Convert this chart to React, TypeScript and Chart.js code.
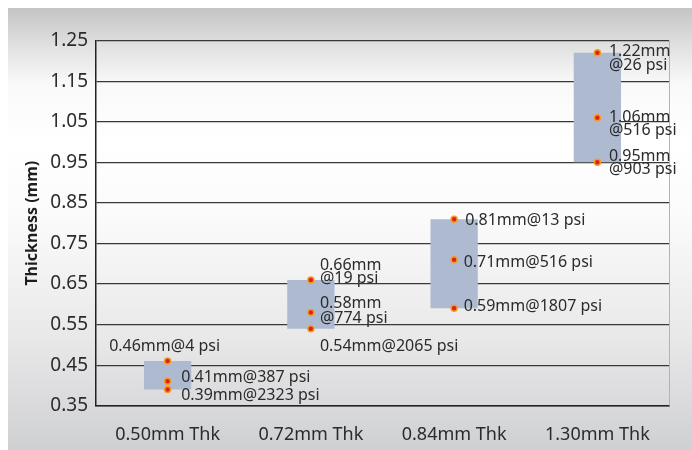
import { useEffect, useRef } from 'react';
import { Chart, registerables } from 'chart.js';

Chart.register(...registerables);

const categories = ['0.50mm Thk', '0.72mm Thk', '0.84mm Thk', '1.30mm Thk'];
const rangeLow = [0.39, 0.54, 0.59, 0.95];
const rangeHigh = [0.46, 0.66, 0.81, 1.22];
const topPoints = [0.46, 0.66, 0.81, 1.22];
const midPoints = [0.41, 0.58, 0.71, 1.06];
const lowPoints = [0.39, 0.54, 0.59, 0.95];
const topLabels = [['0.46mm@4 psi'], ['0.66mm', '@19 psi'], ['0.81mm@13 psi'], ['1.22mm', '@26 psi']];
const midLabels = [['0.41mm@387 psi'], ['0.58mm', '@774 psi'], ['0.71mm@516 psi'], ['1.06mm', '@516 psi']];
const lowLabels = [['0.39mm@2323 psi'], ['0.54mm@2065 psi'], ['0.59mm@1807 psi'], ['0.95mm', '@903 psi']];
const yTicks = [0.35, 0.45, 0.55, 0.65, 0.75, 0.85, 0.95, 1.05, 1.15, 1.25];
const yTickLabels = ['0.35', '0.45', '0.55', '0.65', '0.75', '0.85', '0.95', '1.05', '1.15', '1.25'];
const yTitle = 'Thickness (mm)';

// label placement relative to each dot (layout, not data)
type Place = { dx: number; dy: number; lh?: number; align?: CanvasTextAlign };
const topPlace: Place[] = [
  { dx: -3, dy: -15, align: 'center' },
  { dx: 9, dy: -15, lh: 13.5 },
  { dx: 11, dy: 1 },
  { dx: 11.5, dy: -1, lh: 14 },
];
const midPlace: Place[] = [
  { dx: 13.5, dy: -4 },
  { dx: 9, dy: -9, lh: 15.5 },
  { dx: 9.5, dy: 3 },
  { dx: 11.5, dy: -0.7, lh: 13.5 },
];
const lowPlace: Place[] = [
  { dx: 13.5, dy: 6 },
  { dx: 9, dy: 18 },
  { dx: 9.5, dy: -2 },
  { dx: 11.5, dy: -6.3, lh: 13.5 },
];

const FONT = "'Noto Sans', sans-serif";
const TEXT = '#2b2b2b';

const bgPlugin = {
  id: 'bgGradient',
  beforeDraw(chart: any) {
    const { ctx, width, height } = chart;
    const g = ctx.createLinearGradient(0, 0, 0, height);
    g.addColorStop(0, '#c4c4c4');
    g.addColorStop(0.09, '#e2e2e2');
    g.addColorStop(0.17, '#f9f9f9');
    g.addColorStop(0.3, '#ffffff');
    g.addColorStop(0.47, '#fbfbfb');
    g.addColorStop(0.75, '#e8e8e9');
    g.addColorStop(1, '#cfd0d2');
    ctx.save();
    ctx.fillStyle = g;
    ctx.fillRect(0, 0, width, height);
    ctx.restore();
  },
};

const frameAndLabels = {
  id: 'frameAndLabels',
  afterDatasetsDraw(chart: any) {
    const { ctx, chartArea, scales } = chart;
    const xs = scales.x;
    const ys = scales.y;
    ctx.save();
    ctx.strokeStyle = '#b3b3b3';
    ctx.lineWidth = 1;
    ctx.beginPath();
    ctx.moveTo(chartArea.right + 0.5, chartArea.top);
    ctx.lineTo(chartArea.right + 0.5, chartArea.bottom);
    ctx.stroke();

    ctx.font = `16px ${FONT}`;
    ctx.fillStyle = TEXT;
    ctx.textBaseline = 'middle';
    const groups: [number[], string[][], Place[]][] = [
      [topPoints, topLabels, topPlace],
      [midPoints, midLabels, midPlace],
      [lowPoints, lowLabels, lowPlace],
    ];
    groups.forEach(([vals, labels, places]) => {
      vals.forEach((v, i) => {
        const px = xs.getPixelForValue(i);
        const py = ys.getPixelForValue(v);
        const p = places[i];
        ctx.textAlign = p.align || 'left';
        labels[i].forEach((line, k) => {
          ctx.fillText(line, px + p.dx, py + p.dy + k * (p.lh || 14));
        });
      });
    });
    ctx.restore();
  },
};

export default function App() {
  const ref = useRef<HTMLCanvasElement>(null);
  useEffect(() => {
    if (!ref.current) return;
    const pointStyle = {
      type: 'line' as const,
      showLine: false,
      pointRadius: 3,
      pointBorderWidth: 1.5,
      pointBackgroundColor: '#d8261c',
      pointBorderColor: '#f59a26',
    };
    const chart = new Chart(ref.current, {
      type: 'bar',
      data: {
        labels: categories,
        datasets: [
          {
            type: 'bar',
            data: rangeLow.map((l, i) => [l, rangeHigh[i]]) as any,
            backgroundColor: '#adbacf',
            borderWidth: 0,
            barPercentage: 0.33,
            categoryPercentage: 1,
            order: 2,
          },
          { ...pointStyle, data: topPoints, order: 1 } as any,
          { ...pointStyle, data: midPoints, order: 1 } as any,
          { ...pointStyle, data: lowPoints, order: 1 } as any,
        ],
      },
      options: {
        responsive: false,
        animation: false,
        layout: { padding: { top: 32.7, right: 23, left: 0, bottom: 0 } },
        plugins: { legend: { display: false }, tooltip: { enabled: false } },
        scales: {
          x: {
            grid: { display: false },
            border: { display: true, color: '#222', width: 1.5 },
            ticks: { color: TEXT, font: { family: FONT, size: 18 }, padding: 10 },
            afterFit(scale: any) {
              scale.height = 44.3;
            },
          },
          y: {
            min: 0.35,
            max: 1.25,
            grid: { color: '#383838', lineWidth: 1.2, drawTicks: false },
            border: { display: true, color: '#222', width: 1.5 },
            ticks: {
              color: TEXT,
              font: { family: FONT, size: 19 },
              padding: 8,
              callback: (_v: any, i: number) => yTickLabels[i],
            },
            afterBuildTicks(scale: any) {
              scale.ticks = yTicks.map((v) => ({ value: v }));
            },
            afterFit(scale: any) {
              scale.width = 88;
            },
            title: {
              display: true,
              text: yTitle,
              color: '#1e1e1e',
              font: { family: FONT, size: 16, weight: 'bold' },
              padding: { top: 15, bottom: 0 },
            },
          },
        },
      },
      plugins: [bgPlugin, frameAndLabels],
    });
    return () => chart.destroy();
  }, []);
  return (
    <div style={{ position: 'absolute', left: 8, top: 8, width: 684, height: 442 }}>
      <canvas ref={ref} width={684} height={442} style={{ display: 'block' }} />
    </div>
  );
}
